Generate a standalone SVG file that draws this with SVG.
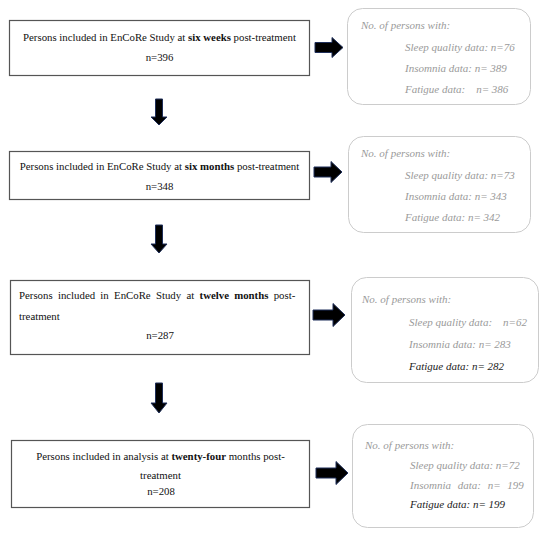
<svg xmlns="http://www.w3.org/2000/svg" width="550" height="538" viewBox="0 0 550 538">
<style>
.box{fill:#fff;stroke:#555;stroke-width:1.2}
.rbox{fill:#fff;stroke:#ccc;stroke-width:1}
.t{font-family:"Liberation Serif",serif;font-size:10.8px;fill:#111}
.b{font-weight:bold}
.it{font-family:"Liberation Serif",serif;font-size:11px;font-style:italic;fill:#9a9a9a}
.dk{fill:#222}
.arr{fill:#000;stroke:#1f2f5a;stroke-width:1}
</style>
<rect width="550" height="538" fill="#fff"/>
<g id="connectors">
<polygon class="arr" points="315,42.5 332,42.5 332,37.5 343,47.5 332,57.5 332,52.5 315,52.5"/>
<polygon class="arr" points="314,167 331,167 331,161.5 342,172 331,182.5 331,177 314,177"/>
<polygon class="arr" points="313,310 333,310 333,303.5 345,315 333,326.5 333,320 313,320"/>
<polygon class="arr" points="316,468 336,468 336,461.5 348,473 336,484.5 336,478 316,478"/>
<polygon class="arr" points="155.5,99 162.5,99 162.5,117 167,117 159,125 151,117 155.5,117"/>
<polygon class="arr" points="155.5,225 162.5,225 162.5,244 167,244 159,253 151,244 155.5,244"/>
<polygon class="arr" points="155.5,383 162.5,383 162.5,403 167,403 159,413 151,403 155.5,403"/>
</g>
<g id="node1">
<rect class="box" x="9.5" y="20.5" width="300" height="55"/>
<text class="t" x="159.5" y="41" text-anchor="middle">Persons included in EnCoRe Study at <tspan class="b">six weeks</tspan> post-treatment</text>
<text class="t" x="159.5" y="61" text-anchor="middle">n=396</text>
</g>
<g id="node1r">
<rect class="rbox" x="347.5" y="8.5" width="183" height="96" rx="15"/>
<text class="it" x="361" y="29">No. of persons with:</text>
<text class="it" x="405" y="51">Sleep quality data: n=76</text>
<text class="it" x="405" y="72">Insomnia data: n= 389</text>
<text class="it" x="405" y="93" xml:space="preserve">Fatigue data:    n= 386</text>
</g>
<g id="node2">
<rect class="box" x="9.5" y="151.5" width="300" height="48"/>
<text class="t" x="159.5" y="170" text-anchor="middle">Persons included in EnCoRe Study at <tspan class="b">six months</tspan> post-treatment</text>
<text class="t" x="159.5" y="190" text-anchor="middle">n=348</text>
</g>
<g id="node2r">
<rect class="rbox" x="348.5" y="136.5" width="182" height="96" rx="15"/>
<text class="it" x="361" y="157">No. of persons with:</text>
<text class="it" x="405" y="179">Sleep quality data: n=73</text>
<text class="it" x="405" y="200">Insomnia data: n= 343</text>
<text class="it" x="405" y="221">Fatigue data: n= 342</text>
</g>
<g id="node3">
<rect class="box" x="10.5" y="280.5" width="299" height="74"/>
<text class="t" x="19" y="299" word-spacing="2.6">Persons included in EnCoRe Study at <tspan class="b">twelve months</tspan> post-</text>
<text class="t" x="19" y="320">treatment</text>
<text class="t" x="160" y="339" text-anchor="middle">n=287</text>
</g>
<g id="node3r">
<rect class="rbox" x="351.5" y="277.5" width="187" height="105" rx="15"/>
<text class="it" x="362" y="303">No. of persons with:</text>
<text class="it" x="409" y="326" xml:space="preserve">Sleep quality data:    n=62</text>
<text class="it" x="409" y="348">Insomnia data: n= 283</text>
<text class="it dk" x="409" y="370">Fatigue data: n= 282</text>
</g>
<g id="node4">
<rect class="box" x="11.5" y="440.5" width="298" height="67"/>
<text class="t" x="160.5" y="460" text-anchor="middle">Persons included in analysis at <tspan class="b">twenty-four</tspan> months post-</text>
<text class="t" x="160.5" y="479" text-anchor="middle">treatment</text>
<text class="t" x="161" y="495" text-anchor="middle">n=208</text>
</g>
<g id="node4r">
<rect class="rbox" x="352.5" y="424.5" width="181" height="103" rx="15"/>
<text class="it" x="365" y="449">No. of persons with:</text>
<text class="it" x="410" y="469">Sleep quality data: n=72</text>
<text class="it" x="410" y="489" word-spacing="4">Insomnia data: n= 199</text>
<text class="it dk" x="410" y="508">Fatigue data: n= 199</text>
</g>
</svg>
